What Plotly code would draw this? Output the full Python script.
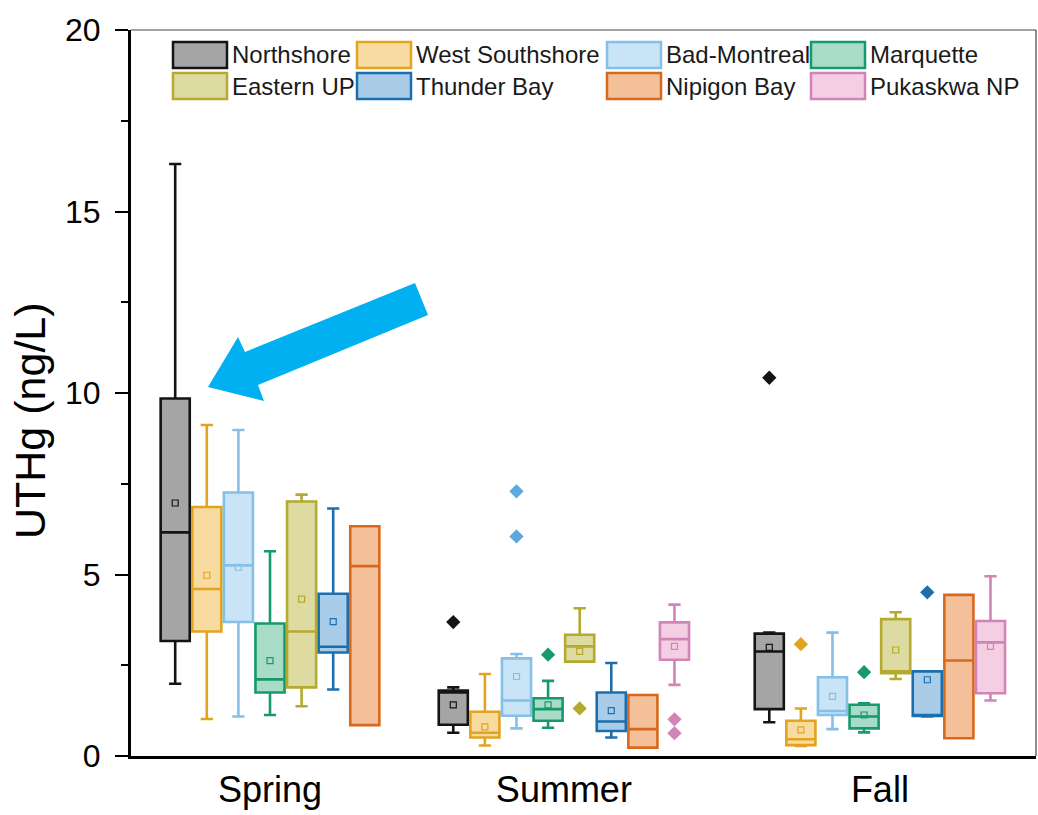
import plotly.graph_objects as go

# ---------------- data ----------------
SEASONS = ["Spring", "Summer", "Fall"]
SITES = ["Northshore", "West Southshore", "Bad-Montreal", "Marquette",
         "Eastern UP", "Thunder Bay", "Nipigon Bay", "Pukaskwa NP"]

# per site: [Spring, Summer, Fall]; None = not sampled
UPPER = {
    "Northshore":      [16.31, 1.89, 3.40],
    "West Southshore": [9.12, 2.26, 1.31],
    "Bad-Montreal":    [8.98, 2.81, 3.40],
    "Marquette":       [5.64, 2.07, 1.45],
    "Eastern UP":      [7.20, 4.07, 3.96],
    "Thunder Bay":     [6.82, 2.56, 2.33],
    "Nipigon Bay":     [6.33, 1.68, 4.44],
    "Pukaskwa NP":     [None, 4.17, 4.95],
}
Q3 = {
    "Northshore":      [9.85, 1.80, 3.37],
    "West Southshore": [6.86, 1.22, 0.97],
    "Bad-Montreal":    [7.26, 2.69, 2.17],
    "Marquette":       [3.65, 1.59, 1.41],
    "Eastern UP":      [7.01, 3.34, 3.77],
    "Thunder Bay":     [4.47, 1.75, 2.33],
    "Nipigon Bay":     [6.33, 1.68, 4.44],
    "Pukaskwa NP":     [None, 3.68, 3.72],
}
MEDIAN = {
    "Northshore":      [6.16, 1.75, 2.88],
    "West Southshore": [4.60, 0.64, 0.46],
    "Bad-Montreal":    [5.25, 1.53, 1.24],
    "Marquette":       [2.11, 1.29, 1.09],
    "Eastern UP":      [3.43, 3.02, 2.33],
    "Thunder Bay":     [3.01, 0.95, 1.13],
    "Nipigon Bay":     [5.23, 0.74, 2.63],
    "Pukaskwa NP":     [None, 3.22, 3.13],
}
MEAN = {
    "Northshore":      [6.97, 1.41, 2.99],
    "West Southshore": [4.98, 0.80, 0.72],
    "Bad-Montreal":    [5.20, 2.19, 1.64],
    "Marquette":       [2.63, 1.41, 1.13],
    "Eastern UP":      [4.32, 2.88, 2.92],
    "Thunder Bay":     [3.70, 1.25, 2.10],
    "Nipigon Bay":     [None, None, None],
    "Pukaskwa NP":     [None, 3.02, 3.02],
}
Q1 = {
    "Northshore":      [3.17, 0.86, 1.29],
    "West Southshore": [3.43, 0.51, 0.30],
    "Bad-Montreal":    [3.69, 1.11, 1.13],
    "Marquette":       [1.75, 0.97, 0.76],
    "Eastern UP":      [1.89, 2.60, 2.28],
    "Thunder Bay":     [2.85, 0.69, 1.10],
    "Nipigon Bay":     [0.85, 0.23, 0.49],
    "Pukaskwa NP":     [None, 2.65, 1.73],
}
LOWER = {
    "Northshore":      [1.99, 0.64, 0.93],
    "West Southshore": [1.02, 0.29, 0.28],
    "Bad-Montreal":    [1.09, 0.76, 0.74],
    "Marquette":       [1.13, 0.78, 0.65],
    "Eastern UP":      [1.37, 2.60, 2.12],
    "Thunder Bay":     [1.83, 0.51, 1.09],
    "Nipigon Bay":     [0.85, 0.23, 0.49],
    "Pukaskwa NP":     [None, 1.96, 1.53],
}
# outliers: (site, season, value)
OUTLIERS = [
    ("Northshore", "Summer", 3.69),
    ("Bad-Montreal", "Summer", 7.29),
    ("Bad-Montreal", "Summer", 6.05),
    ("Marquette", "Summer", 2.79),
    ("Eastern UP", "Summer", 1.31),
    ("Pukaskwa NP", "Summer", 1.01),
    ("Pukaskwa NP", "Summer", 0.63),
    ("Northshore", "Fall", 10.42),
    ("West Southshore", "Fall", 3.08),
    ("Marquette", "Fall", 2.31),
    ("Thunder Bay", "Fall", 4.51),
]

# ---------------- styles ----------------
LINE = {
    "Northshore": "#141414", "West Southshore": "#e2a41f", "Bad-Montreal": "#84c0e8",
    "Marquette": "#17996f", "Eastern UP": "#b3aa2e", "Thunder Bay": "#1c6fae",
    "Nipigon Bay": "#d8691c", "Pukaskwa NP": "#d384b6",
}
FILL = {
    "Northshore": "#a5a5a5", "West Southshore": "#f8dba0", "Bad-Montreal": "#c8e4f6",
    "Marquette": "#a8dcc7", "Eastern UP": "#dddaa2", "Thunder Bay": "#a9cce9",
    "Nipigon Bay": "#f3c09a", "Pukaskwa NP": "#f4cee2",
}
POINT = dict(LINE)
POINT["Bad-Montreal"] = "#5aa9df"

SEASON_CENTER = [0.0, 9.3, 19.3]   # group centres in box-slot units
BOX_W = 0.92

# position of each (site, season) box
pos = {}
for si, season in enumerate(SEASONS):
    present = [s for s in SITES if Q1[s][si] is not None]
    n = len(present)
    for k, s in enumerate(present):
        pos[(s, season)] = SEASON_CENTER[si] + (k - (n - 1) / 2)

fig = go.Figure()
for s in SITES:
    idx = [i for i in range(3) if Q1[s][i] is not None]
    fig.add_trace(go.Box(
        x=[pos[(s, SEASONS[i])] for i in idx],
        q1=[Q1[s][i] for i in idx],
        median=[MEDIAN[s][i] for i in idx],
        q3=[Q3[s][i] for i in idx],
        lowerfence=[LOWER[s][i] for i in idx],
        upperfence=[UPPER[s][i] for i in idx],
        width=BOX_W, whiskerwidth=0.42,
        line=dict(color=LINE[s], width=2.6),
        fillcolor=FILL[s], boxpoints=False, name=s, showlegend=False,
    ))
    midx = [i for i in idx if MEAN[s][i] is not None]
    if midx:
        fig.add_trace(go.Scatter(
            x=[pos[(s, SEASONS[i])] for i in midx],
            y=[MEAN[s][i] for i in midx],
            mode="markers", showlegend=False, hoverinfo="skip",
            marker=dict(symbol="square-open", size=6, color=LINE[s],
                        line=dict(width=1.2, color=LINE[s])),
        ))

for s in SITES:
    pts = [(site, season, v) for site, season, v in OUTLIERS if site == s]
    if pts:
        fig.add_trace(go.Scatter(
            x=[pos[(site, season)] for site, season, v in pts],
            y=[v for _, _, v in pts],
            mode="markers", showlegend=False,
            marker=dict(symbol="diamond", size=11, color=POINT[s]),
        ))

# ---------------- layout ----------------
L, R, T, B = 131, 2, 30, 59
W, H = 1038, 815
PW, PH = W - L - R, H - T - B
SLOT_PX = 31.6
x_left = -(270 - L) / SLOT_PX
x_right = x_left + PW / SLOT_PX


def px(xpix):
    return (xpix - L) / PW


def py(ypix):
    return (H - B - ypix) / PH


FONT = "Liberation Sans, Arial, sans-serif"
shapes = []
annotations = []

# thin frame top / right
shapes.append(dict(type="line", xref="paper", yref="paper", x0=0, x1=1, y0=1, y1=1,
                   line=dict(color="#444", width=1.2)))
shapes.append(dict(type="line", xref="paper", yref="paper", x0=1, x1=1, y0=0, y1=1,
                   line=dict(color="#444", width=1.2)))

# custom legend
col_x = [173, 357, 607, 811]
row_y = [55, 86]
for i, s in enumerate(SITES):
    r, c = divmod(i, 4)
    x0 = col_x[c]
    yc = row_y[r]
    shapes.append(dict(type="rect", xref="paper", yref="paper",
                       x0=px(x0), x1=px(x0 + 54), y0=py(yc + 13), y1=py(yc - 13),
                       fillcolor=FILL[s], line=dict(color=LINE[s], width=2.5)))
    annotations.append(dict(xref="paper", yref="paper", x=px(x0 + 57), y=py(yc),
                            xanchor="left", yanchor="middle", showarrow=False,
                            text=s, font=dict(family=FONT, size=24, color="#1a1a1a")))

# blue arrow (annotation graphic)
arrow_pts = [(208, 387), (238, 337), (245, 352), (415, 283), (428, 315),
             (258, 385), (264, 401)]
path = "M " + " L ".join(f"{px(a):.5f},{py(b):.5f}" for a, b in arrow_pts) + " Z"
shapes.append(dict(type="path", xref="paper", yref="paper", path=path,
                   fillcolor="#00b0f0", line=dict(width=0)))

# y-axis title
annotations.append(dict(xref="paper", yref="paper", x=px(30), y=py(421),
                        xanchor="center", yanchor="middle", showarrow=False,
                        textangle=-90, text="UTHg (ng/L)",
                        font=dict(family=FONT, size=43, color="#000")))

fig.update_layout(
    width=W, height=H,
    margin=dict(l=L, r=R, t=T, b=B),
    paper_bgcolor="white", plot_bgcolor="white",
    boxmode="overlay",
    showlegend=False,
    shapes=shapes, annotations=annotations,
    font=dict(family=FONT, color="#000"),
)
fig.update_xaxes(
    range=[x_left, x_right], tickmode="array", tickvals=SEASON_CENTER,
    ticktext=SEASONS, ticks="", showgrid=False, zeroline=False,
    showline=True, linecolor="#000", linewidth=3,
    tickfont=dict(family=FONT, size=36, color="#000"),
)
fig.update_yaxes(
    range=[0, 20], tickmode="linear", tick0=0, dtick=5,
    ticks="outside", ticklen=13, tickwidth=2, tickcolor="#000",
    minor=dict(ticks="outside", ticklen=7, tickwidth=2, tickcolor="#000", dtick=2.5),
    showgrid=False, zeroline=False,
    showline=True, linecolor="#000", linewidth=3,
    tickfont=dict(family=FONT, size=32, color="#000"),
    ticklabelstandoff=8,
)

fig.write_html(
    "out.html",
    config={"displayModeBar": False},
    post_script="document.body.style.margin='0';document.body.style.overflow='hidden';",
)
